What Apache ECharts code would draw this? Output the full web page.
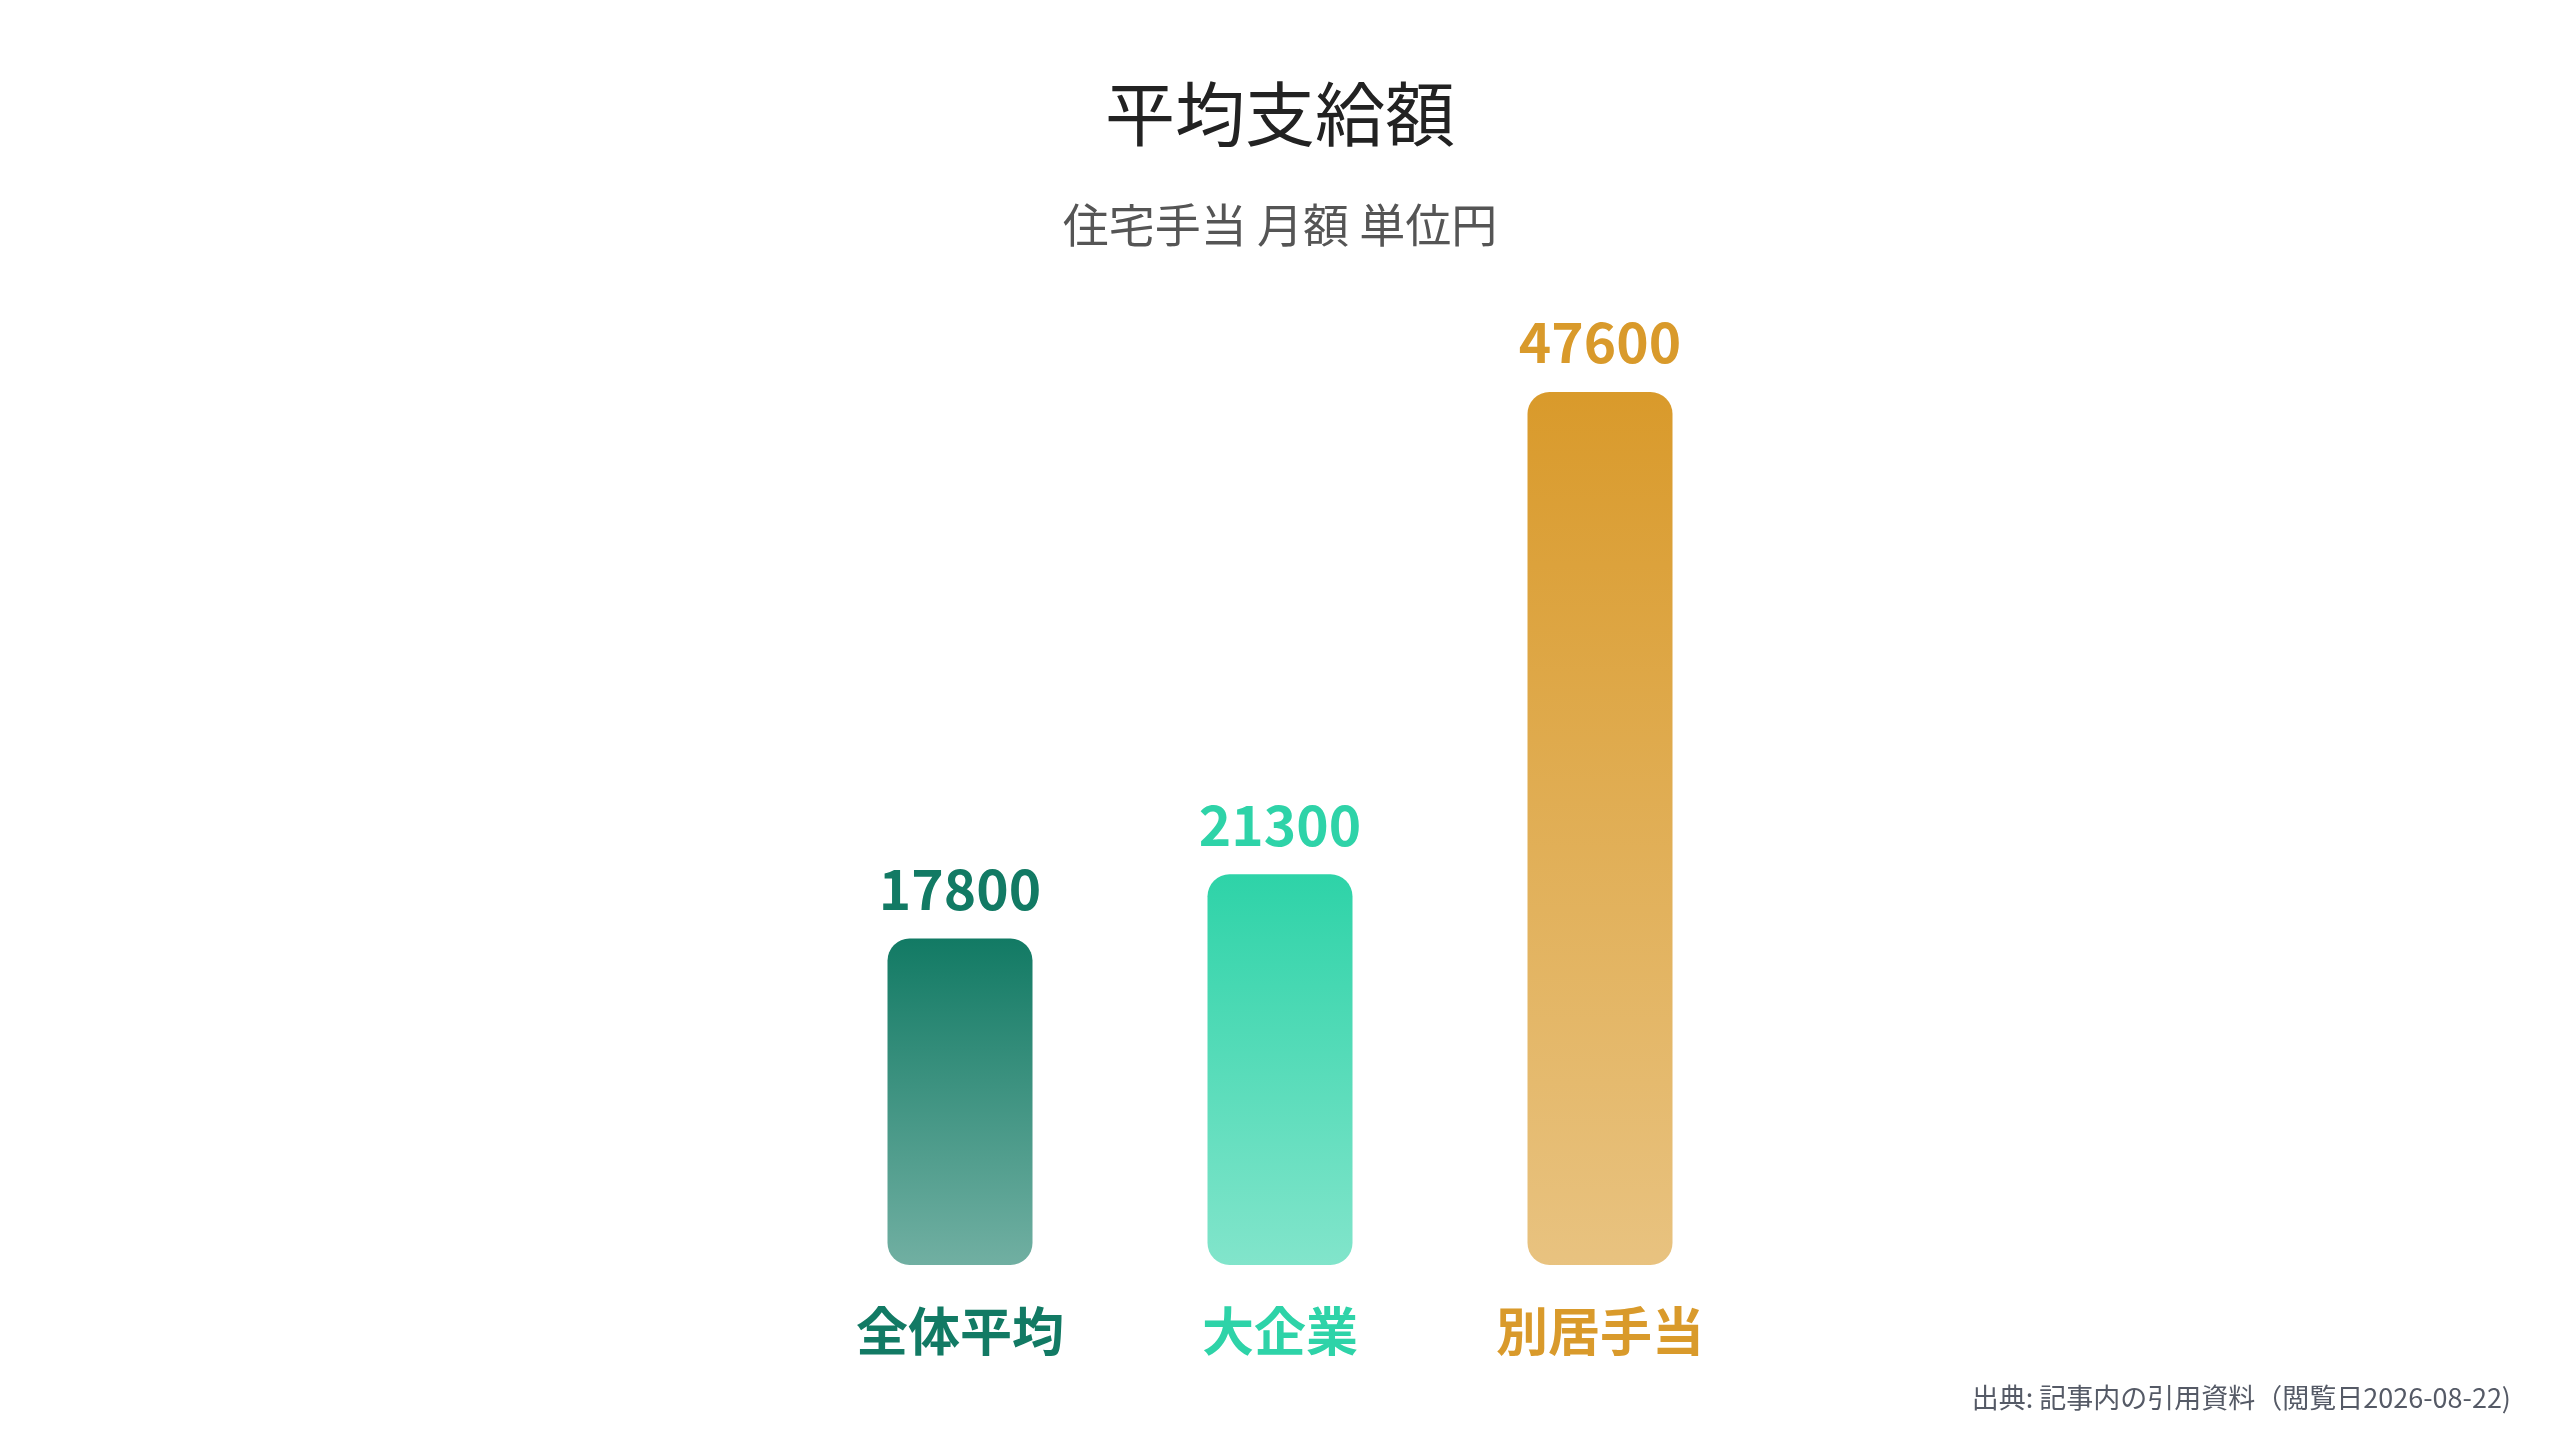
<!DOCTYPE html>
<html>
<head>
<meta charset="utf-8">
<script src="https://cdn.jsdelivr.net/npm/echarts@6/dist/echarts.min.js"></script>
<style>
html,body{margin:0;padding:0;background:#fff;}
#chart{width:2560px;height:1440px;}
</style>
</head>
<body>
<div id="chart"></div>
<script>
const categories = ['全体平均', '大企業', '別居手当'];
const values = [17800, 21300, 47600];
const colors = ['#127A64', '#2ED3A8', '#D99A2B'];
const titleText = '平均支給額';
const subtitleText = '住宅手当 月額 単位円';
const sourceText = '出典: 記事内の引用資料（閲覧日2026-08-22)';

function fade(hex, a) {
  const r = parseInt(hex.slice(1,3),16), g = parseInt(hex.slice(3,5),16), b = parseInt(hex.slice(5,7),16);
  return 'rgba(' + r + ',' + g + ',' + b + ',' + a + ')';
}

const FONT = '"Noto Sans CJK JP", "Noto Sans", sans-serif';
const chart = echarts.init(document.getElementById('chart'));
chart.setOption({
  backgroundColor: '#ffffff',
  animation: false,
  title: [
    { text: titleText, left: 'center', top: 74,
      textStyle: { fontFamily: FONT, fontSize: 70, fontWeight: 'normal', color: '#222222' } },
    { text: subtitleText, left: 'center', top: 197,
      textStyle: { fontFamily: FONT, fontSize: 46, fontWeight: 'normal', color: '#555555' } },
    { text: sourceText, right: 44, bottom: 24,
      textStyle: { fontFamily: FONT, fontSize: 27, fontWeight: 'normal', color: '#555a66' } }
  ],
  grid: { left: 800, right: 800, top: 348, bottom: 175 },
  xAxis: {
    type: 'category',
    data: categories,
    axisLine: { show: false },
    axisTick: { show: false },
    axisLabel: {
      margin: 40,
      fontFamily: FONT,
      fontSize: 52,
      fontWeight: 'bold',
      color: function (v, i) { return colors[i]; }
    }
  },
  yAxis: {
    type: 'value',
    min: 0,
    max: 50000,
    show: false,
    splitLine: { show: false }
  },
  series: [{
    type: 'bar',
    barWidth: 145,
    data: values.map(function (v, i) {
      return {
        value: v,
        itemStyle: {
          borderRadius: 22,
          color: new echarts.graphic.LinearGradient(0, 0, 0, 1, [
            { offset: 0, color: colors[i] },
            { offset: 1, color: fade(colors[i], 0.6) }
          ])
        },
        label: { color: colors[i] }
      };
    }),
    label: {
      show: true,
      position: 'top',
      distance: 22,
      fontFamily: FONT,
      fontSize: 55,
      fontWeight: 'bold'
    }
  }]
});
</script>
</body>
</html>
